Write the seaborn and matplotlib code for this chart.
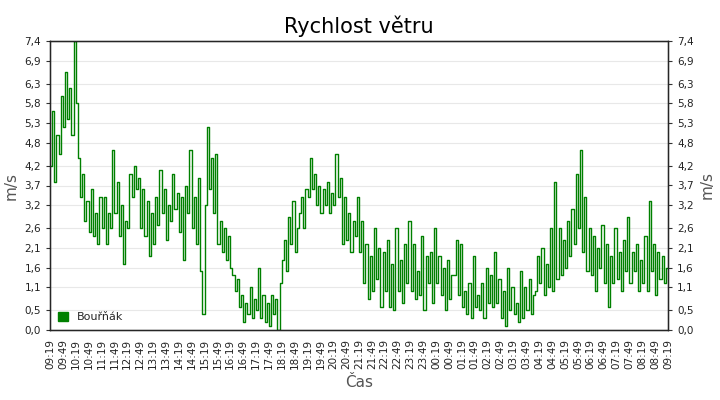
import matplotlib
matplotlib.use("Agg")
import matplotlib.pyplot as plt
import seaborn as sns
import pandas as pd

# wind speed [m/s], one value every 5 minutes from 09:19, one row per hour
wind = [
    4.2, 5.6, 3.8, 5.0, 4.5, 6.0, 5.2, 6.6, 5.4, 6.2, 5.0, 7.4,
    5.8, 4.4, 3.4, 4.0, 2.8, 3.3, 2.5, 3.6, 2.4, 3.0, 2.2, 3.4,
    2.6, 3.4, 2.2, 3.0, 2.6, 4.6, 3.0, 3.8, 2.4, 3.2, 1.7, 2.8,
    2.6, 4.0, 3.4, 4.2, 3.6, 3.9, 2.6, 3.6, 2.4, 3.3, 1.9, 3.0,
    2.2, 3.4, 2.7, 4.1, 3.0, 3.6, 2.3, 3.2, 2.8, 4.0, 3.1, 3.5,
    2.5, 3.4, 1.8, 3.7, 3.0, 4.6, 2.6, 3.4, 2.2, 3.9, 1.5, 0.4,
    3.2, 5.2, 3.6, 4.4, 3.0, 4.5, 2.2, 2.8, 2.0, 2.6, 1.8, 2.4,
    1.6, 1.4, 1.0, 1.3, 0.6, 0.9, 0.2, 0.7, 0.4, 1.1, 0.3, 0.8,
    0.5, 1.6, 0.3, 0.9, 0.2, 0.7, 0.1, 0.9, 0.4, 0.8, 0.0, 1.2,
    1.8, 2.3, 1.5, 2.9, 2.2, 3.3, 2.0, 2.6, 3.0, 3.4, 2.6, 3.6,
    3.4, 4.4, 3.6, 4.0, 3.2, 3.7, 3.0, 3.6, 3.2, 3.8, 3.0, 3.5,
    3.2, 4.5, 3.4, 3.9, 2.2, 3.4, 2.3, 3.0, 2.0, 2.8, 2.4, 3.4,
    2.0, 2.8, 1.2, 2.2, 0.8, 1.9, 1.0, 2.6, 1.3, 2.1, 0.6, 2.0,
    1.0, 2.3, 0.6, 1.7, 0.5, 2.6, 1.0, 1.8, 0.7, 2.2, 1.2, 2.8,
    1.0, 2.2, 0.8, 1.5, 0.9, 2.4, 0.5, 1.9, 1.2, 2.0, 0.7, 2.6,
    1.2, 1.9, 0.9, 1.6, 0.5, 1.8, 0.8, 1.4, 1.4, 2.3, 0.9, 2.2,
    0.6, 1.0, 0.4, 1.2, 0.3, 1.9, 0.6, 0.9, 0.5, 1.2, 0.3, 1.6,
    0.7, 1.4, 0.6, 2.0, 0.7, 1.3, 0.3, 1.0, 0.1, 1.6, 0.5, 1.1,
    0.4, 0.7, 0.2, 1.5, 0.3, 1.1, 0.5, 1.3, 0.4, 0.9, 1.0, 1.9,
    1.2, 2.1, 0.9, 1.7, 1.1, 2.6, 1.0, 3.8, 1.3, 2.6, 1.4, 2.3,
    1.6, 2.8, 1.9, 3.1, 2.2, 4.0, 2.6, 4.6, 2.0, 3.4, 1.5, 2.6,
    1.4, 2.4, 1.0, 2.1, 1.6, 2.7, 1.2, 2.2, 0.6, 1.9, 1.2, 2.6,
    1.3, 2.0, 1.0, 2.3, 1.5, 2.9, 1.2, 2.0, 1.5, 2.2, 1.0, 1.8,
    1.2, 2.4, 1.0, 3.3, 1.5, 2.2, 0.9, 2.0, 1.3, 1.9, 1.2, 1.6,
    1.6,
]
y_ticks = [0.0, 0.5, 1.1, 1.6, 2.1, 2.6, 3.2, 3.7, 4.2, 4.8, 5.3, 5.8, 6.3, 6.9, 7.4]

times = pd.date_range("2024-05-01 09:19", periods=len(wind), freq="5min")
df = pd.DataFrame({"cas": times, "vitr": wind})
x_ticks = pd.date_range(times[0], times[-1], freq="30min")

sns.set_style("white")
plt.rcParams['font.family'] = ['DejaVu Sans']

fig = plt.figure(figsize=(7.2, 4.0), dpi=100)
ax = fig.add_axes([50 / 720, 70 / 400, 618 / 720, 289 / 400])

sns.lineplot(data=df, x="cas", y="vitr", ax=ax, color="#008000", lw=1,
             drawstyle="steps-post", legend=False)

ylabels = [f"{v:.1f}".replace(".", ",") for v in y_ticks]
ax.set_xlim(times[0], times[-1])
ax.set_ylim(0, 7.4)
ax.set_yticks(y_ticks)
ax.set_yticklabels(ylabels, fontsize=7.5)
ax.set_xticks(x_ticks)
ax.set_xticklabels([t.strftime("%H:%M") for t in x_ticks], rotation=90, fontsize=7.5)
ax.grid(axis="y", color="#e8e8e8", lw=0.8)
ax.tick_params(axis="both", direction="out", length=3, width=0.8,
               color="#333333", labelcolor="#222222")
for s in ax.spines.values():
    s.set_color("black")
    s.set_linewidth(1)

ax.set_title("Rychlost větru", fontsize=15, pad=6, color="black")
ax.set_xlabel("Čas", fontsize=11, color="#555555")
ax.set_ylabel("m/s", fontsize=11, color="#555555")

ax2 = ax.twinx()
ax2.set_ylim(0, 7.4)
ax2.set_yticks(y_ticks)
ax2.set_yticklabels(ylabels, fontsize=7.5)
ax2.tick_params(axis="y", direction="out", length=3, width=0.8,
                color="#333333", labelcolor="#222222")
ax2.set_ylabel("m/s", fontsize=11, color="#555555")

handles = [plt.Rectangle((0, 0), 1, 1, color="#008000")]
ax.legend(handles, ["Bouřňák"], loc="lower left", frameon=False, fontsize=8,
          handlelength=0.9, handleheight=0.9, borderaxespad=0.3)

fig.savefig("out.png", dpi=100)
